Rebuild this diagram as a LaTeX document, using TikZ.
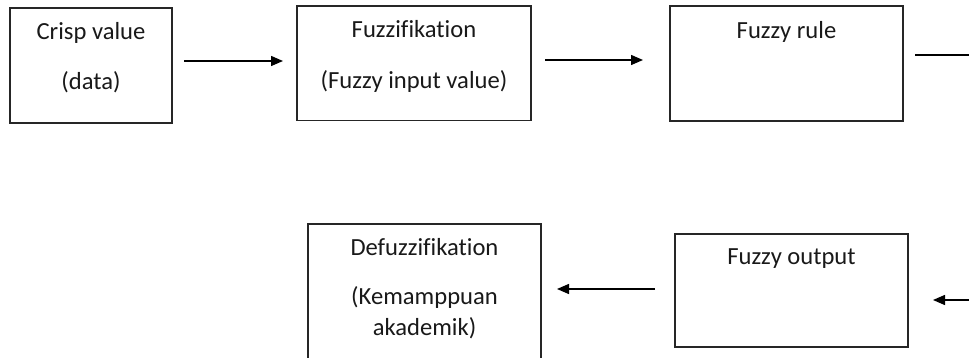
\documentclass[tikz,border=0pt]{standalone}
\usepackage{fontspec}
\setmainfont[Ligatures={NoCommon}]{Carlito}
\usetikzlibrary{arrows.meta}
\begin{document}
\begin{tikzpicture}[x=1pt,y=-1pt,
  stagebox/.style={draw=black!85,line width=1.4pt,inner sep=0pt},
  txt/.style={anchor=base,text=black!90,font=\fontsize{24.6}{29}\selectfont,inner sep=0pt},
  flow/.style={line width=1.4pt,draw=black,-{Triangle[length=12pt,width=10pt]}},
  plain/.style={line width=1.4pt,draw=black}]
\clip (0,0) rectangle (969,358);
\fill[white] (0,0) rectangle (969,358);

% stage boxes
\node[stagebox,minimum width=162pt,minimum height=115pt] (crisp) at (91,65.5) {};
\node[stagebox,minimum width=234pt,minimum height=114.5pt] (fuzz) at (414,63.25) {};
\node[stagebox,minimum width=233pt,minimum height=115pt] (rule) at (786.5,63.5) {};
\node[stagebox,minimum width=233pt,minimum height=151pt] (defuzz) at (424.5,299.5) {};
\node[stagebox,minimum width=233pt,minimum height=113pt] (fout) at (791.5,290.5) {};

% box texts
\node[txt] (crispA) at (91,40) {Crisp value};
\node[txt] (crispB) at (91,90) {(data)};
\node[txt] (fuzzA) at (414,38) {Fuzzifikation};
\node[txt] (fuzzB) at (414,89) {(Fuzzy input value)};
\node[txt] (ruleA) at (786.5,39) {Fuzzy rule};
\node[txt] (defA) at (424.5,255) {Defuzzifikation};
\node[txt] (defB) at (424.5,304) {(Kemamppuan};
\node[txt] (defC) at (424.5,335) {akademik)};
\node[txt] (foutA) at (791.5,264) {Fuzzy output};

% connector end points
\coordinate (a1s) at (184,61);  \coordinate (a1e) at (283,61);
\coordinate (a2s) at (545,60);  \coordinate (a2e) at (643,60);
\coordinate (a3s) at (915,55);  \coordinate (a3e) at (980,55);
\coordinate (a4s) at (980,300); \coordinate (a4e) at (933,300);
\coordinate (a5s) at (655,289); \coordinate (a5e) at (557,289);

% connectors
\draw[flow] (a1s) -- (a1e);
\draw[flow] (a2s) -- (a2e);
\draw[plain] (a3s) -- (a3e);
\draw[flow] (a4s) -- (a4e);
\draw[flow] (a5s) -- (a5e);
\end{tikzpicture}
\end{document}
